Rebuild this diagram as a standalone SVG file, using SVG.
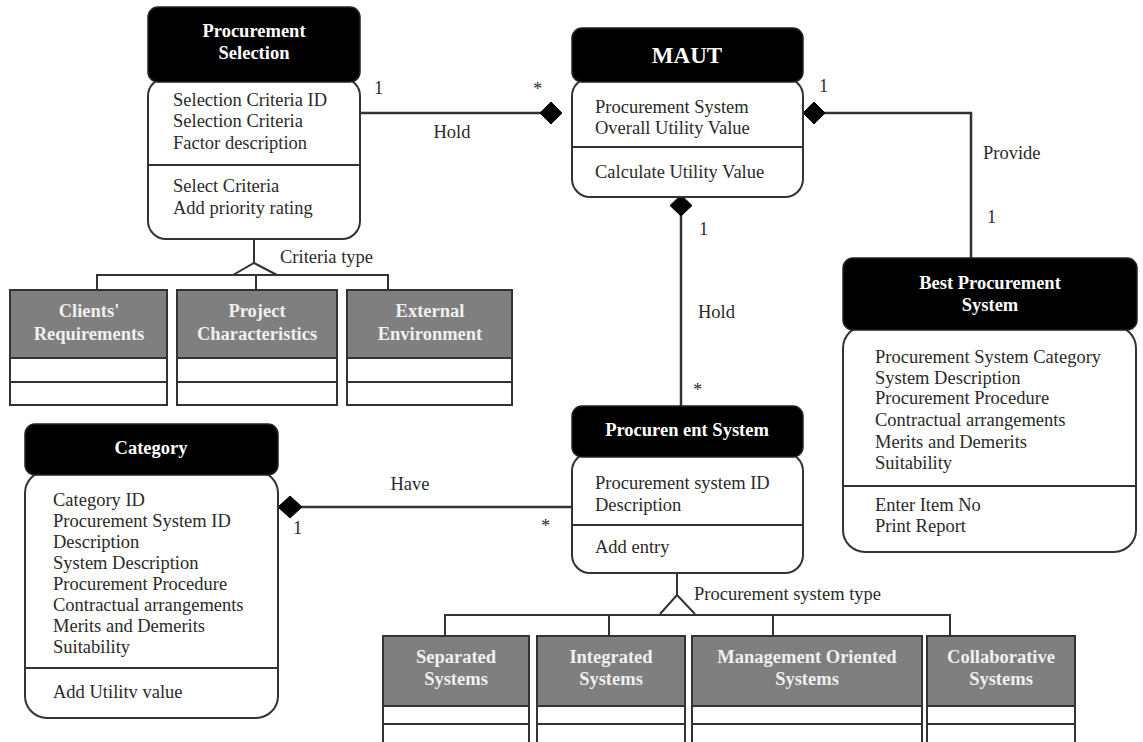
<svg xmlns="http://www.w3.org/2000/svg" width="1143" height="742" viewBox="0 0 1143 742">
  <defs>
    <style>
      .hdr { fill: #000; stroke: #222; stroke-width: 1.5; }
      .body { fill: #fff; stroke: #333; stroke-width: 2; }
      .sub { fill: #7f7f7f; stroke: #333; stroke-width: 2; }
      .row { fill: #fff; stroke: #333; stroke-width: 2; }
      .div { stroke: #333; stroke-width: 2; }
      .line { fill: none; stroke: #333; stroke-width: 2.5; }
      .thin { fill: none; stroke: #333; stroke-width: 2; }
      .dia { fill: #000; stroke: #000; stroke-width: 1; }
      .title { font-family: "Liberation Serif", "Times New Roman", serif; font-weight: bold; font-size: 18.5px; fill: #fff; text-anchor: middle; }
      .subt { font-family: "Liberation Serif", "Times New Roman", serif; font-weight: bold; font-size: 18.5px; fill: #f0f0f0; text-anchor: middle; }
      .txt { font-family: "Liberation Serif", "Times New Roman", serif; font-size: 18.5px; fill: #2a2a2a; }
      .lbl { font-family: "Liberation Serif", "Times New Roman", serif; font-size: 18.5px; fill: #2a2a2a; }
    </style>
  </defs>

  <!-- associations and generalisations -->
  <g id="connectors">
    <!-- Procurement Selection to MAUT -->
    <line class="line" x1="358" y1="113" x2="541" y2="113"/>
    <polygon class="dia" points="540,113 551,102 562,113 551,124"/>
    <text class="lbl" x="374" y="94">1</text>
    <text class="lbl" x="533" y="95">*</text>
    <text class="lbl" x="452" y="138" text-anchor="middle">Hold</text>

    <!-- MAUT to Best Procurement System -->
    <polyline class="line" points="824,113 971,113 971,258"/>
    <polygon class="dia" points="803,113 814,102 825,113 814,124"/>
    <text class="lbl" x="819" y="92">1</text>
    <text class="lbl" x="983" y="159">Provide</text>
    <text class="lbl" x="987" y="223">1</text>

    <!-- MAUT to Procurement System -->
    <line class="line" x1="681" y1="214" x2="681" y2="406"/>
    <polygon class="dia" points="681,195 692,205.5 681,216 670,205.5"/>
    <text class="lbl" x="699" y="235">1</text>
    <text class="lbl" x="698" y="318">Hold</text>
    <text class="lbl" x="693" y="396">*</text>

    <!-- Category to Procurement System -->
    <line class="line" x1="300" y1="507" x2="572" y2="507"/>
    <polygon class="dia" points="278,507 290,496 302,507 290,518"/>
    <text class="lbl" x="293" y="534">1</text>
    <text class="lbl" x="410" y="490" text-anchor="middle">Have</text>
    <text class="lbl" x="541" y="532">*</text>

    <!-- Criteria type generalisation -->
    <line class="thin" x1="254" y1="239" x2="254" y2="263"/>
    <polyline class="thin" points="233,275 254,263 277,275"/>
    <polyline class="thin" points="97,290 97,275 388,275 388,290"/>
    <line class="thin" x1="256" y1="275" x2="256" y2="290"/>
    <text class="lbl" x="280" y="263">Criteria type</text>

    <!-- Procurement system type generalisation -->
    <line class="thin" x1="677" y1="573" x2="677" y2="595"/>
    <polyline class="thin" points="660,614 677,595 695,614"/>
    <polyline class="thin" points="445,636 445,615 950,615 950,636"/>
    <line class="thin" x1="609" y1="615" x2="609" y2="636"/>
    <line class="thin" x1="773" y1="615" x2="773" y2="636"/>
    <text class="lbl" x="694" y="600">Procurement system type</text>
  </g>

  <!-- Procurement Selection -->
  <g id="procurement-selection">
    <rect class="body" x="148" y="78" width="212" height="161" rx="18"/>
    <line class="div" x1="148" y1="165" x2="360" y2="165"/>
    <rect class="hdr" x="148" y="7" width="212" height="75" rx="10"/>
    <text class="title" x="254" y="37">Procurement</text>
    <text class="title" x="254" y="59">Selection</text>
    <text class="txt" x="173" y="106">Selection Criteria ID</text>
    <text class="txt" x="173" y="127">Selection Criteria</text>
    <text class="txt" x="173" y="149">Factor description</text>
    <text class="txt" x="173" y="192">Select Criteria</text>
    <text class="txt" x="173" y="214">Add priority rating</text>
  </g>

  <!-- MAUT -->
  <g id="maut">
    <rect class="body" x="572" y="78" width="231" height="119" rx="18"/>
    <line class="div" x1="572" y1="147" x2="803" y2="147"/>
    <rect class="hdr" x="572" y="28" width="231" height="54" rx="10"/>
    <text class="title" x="687" y="63" style="font-size:23px">MAUT</text>
    <text class="txt" x="595" y="113">Procurement System</text>
    <text class="txt" x="595" y="134">Overall Utility Value</text>
    <text class="txt" x="595" y="178">Calculate Utility Value</text>
  </g>

  <!-- Best Procurement System -->
  <g id="best-procurement-system">
    <rect class="body" x="843" y="326" width="293" height="226" rx="22"/>
    <line class="div" x1="843" y1="486" x2="1136" y2="486"/>
    <rect class="hdr" x="843" y="258" width="294" height="72" rx="10"/>
    <text class="title" x="990" y="289">Best Procurement</text>
    <text class="title" x="990" y="311">System</text>
    <text class="txt" x="875" y="363">Procurement System Category</text>
    <text class="txt" x="875" y="384">System Description</text>
    <text class="txt" x="875" y="404">Procurement Procedure</text>
    <text class="txt" x="875" y="426">Contractual arrangements</text>
    <text class="txt" x="875" y="448">Merits and Demerits</text>
    <text class="txt" x="875" y="469">Suitability</text>
    <text class="txt" x="875" y="511">Enter Item No</text>
    <text class="txt" x="875" y="532">Print Report</text>
  </g>

  <!-- Category -->
  <g id="category">
    <rect class="body" x="25" y="471" width="253" height="247" rx="22"/>
    <line class="div" x1="25" y1="668" x2="278" y2="668"/>
    <rect class="hdr" x="25" y="424" width="253" height="51" rx="10"/>
    <text class="title" x="151" y="454">Category</text>
    <text class="txt" x="53" y="506">Category ID</text>
    <text class="txt" x="53" y="527">Procurement System ID</text>
    <text class="txt" x="53" y="548">Description</text>
    <text class="txt" x="53" y="569">System Description</text>
    <text class="txt" x="53" y="590">Procurement Procedure</text>
    <text class="txt" x="53" y="611">Contractual arrangements</text>
    <text class="txt" x="53" y="632">Merits and Demerits</text>
    <text class="txt" x="53" y="653">Suitability</text>
    <text class="txt" x="53" y="698">Add Utilitv value</text>
  </g>

  <!-- Procurement System -->
  <g id="procurement-system">
    <rect class="body" x="572" y="453" width="231" height="120" rx="18"/>
    <line class="div" x1="572" y1="525" x2="803" y2="525"/>
    <rect class="hdr" x="572" y="406" width="231" height="51" rx="10"/>
    <text class="title" x="687" y="436">Procuren ent System</text>
    <text class="txt" x="595" y="489">Procurement system ID</text>
    <text class="txt" x="595" y="511">Description</text>
    <text class="txt" x="595" y="553">Add entry</text>
  </g>

  <!-- criteria type subclasses -->
  <g id="clients-requirements">
    <rect class="sub" x="10" y="290" width="157" height="68"/>
    <rect class="row" x="10" y="358" width="157" height="24"/>
    <rect class="row" x="10" y="382" width="157" height="23"/>
    <text class="subt" x="89" y="317">Clients'</text>
    <text class="subt" x="89" y="340">Requirements</text>
  </g>
  <g id="project-characteristics">
    <rect class="sub" x="177" y="290" width="160" height="68"/>
    <rect class="row" x="177" y="358" width="160" height="24"/>
    <rect class="row" x="177" y="382" width="160" height="23"/>
    <text class="subt" x="257" y="317">Project</text>
    <text class="subt" x="257" y="340">Characteristics</text>
  </g>
  <g id="external-environment">
    <rect class="sub" x="347" y="290" width="165" height="68"/>
    <rect class="row" x="347" y="358" width="165" height="24"/>
    <rect class="row" x="347" y="382" width="165" height="23"/>
    <text class="subt" x="430" y="317">External</text>
    <text class="subt" x="430" y="340">Environment</text>
  </g>

  <!-- procurement system type subclasses -->
  <g id="separated-systems">
    <rect class="sub" x="383" y="636" width="146" height="70"/>
    <rect class="row" x="383" y="706" width="146" height="18"/>
    <rect class="row" x="383" y="724" width="146" height="20"/>
    <text class="subt" x="456" y="663">Separated</text>
    <text class="subt" x="456" y="685">Systems</text>
  </g>
  <g id="integrated-systems">
    <rect class="sub" x="537" y="636" width="148" height="70"/>
    <rect class="row" x="537" y="706" width="148" height="18"/>
    <rect class="row" x="537" y="724" width="148" height="20"/>
    <text class="subt" x="611" y="663">Integrated</text>
    <text class="subt" x="611" y="685">Systems</text>
  </g>
  <g id="management-oriented-systems">
    <rect class="sub" x="692" y="636" width="230" height="70"/>
    <rect class="row" x="692" y="706" width="230" height="18"/>
    <rect class="row" x="692" y="724" width="230" height="20"/>
    <text class="subt" x="807" y="663">Management Oriented</text>
    <text class="subt" x="807" y="685">Systems</text>
  </g>
  <g id="collaborative-systems">
    <rect class="sub" x="927" y="636" width="148" height="70"/>
    <rect class="row" x="927" y="706" width="148" height="18"/>
    <rect class="row" x="927" y="724" width="148" height="20"/>
    <text class="subt" x="1001" y="663">Collaborative</text>
    <text class="subt" x="1001" y="685">Systems</text>
  </g>
</svg>
